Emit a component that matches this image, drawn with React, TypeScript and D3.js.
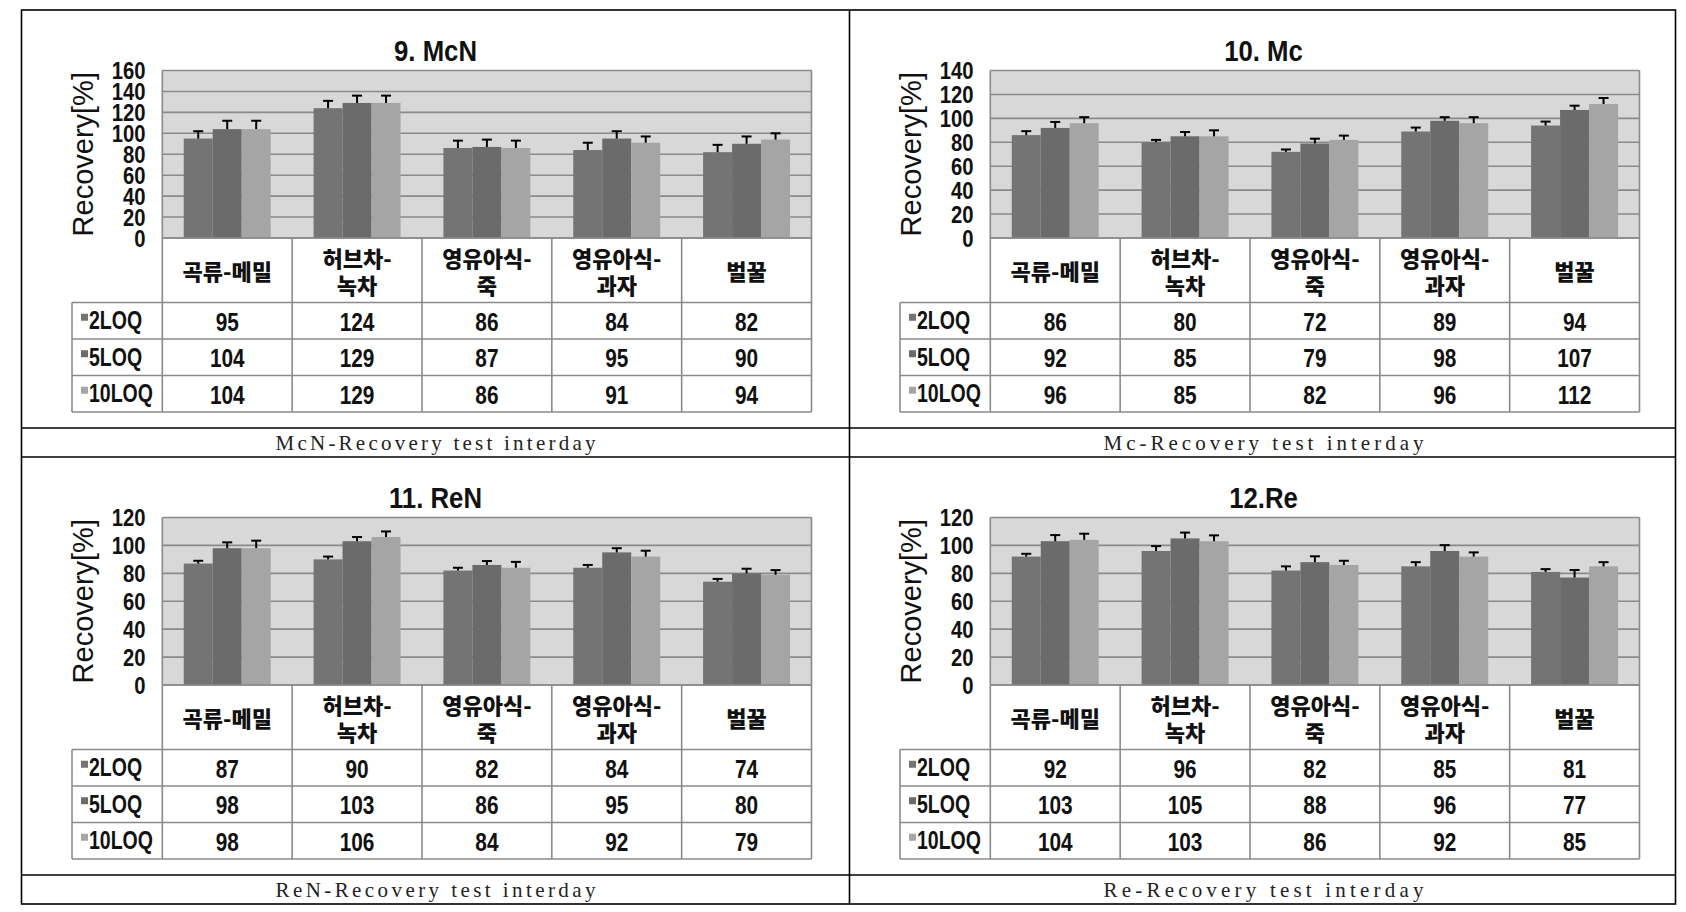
import React from "react";
import * as d3 from "d3";

const categories: string[][] = [["곡류-메밀"], ["허브차-", "녹차"], ["영유아식-", "죽"], ["영유아식-", "과자"], ["벌꿀"]];
const seriesNames = ["2LOQ", "5LOQ", "10LOQ"];
const seriesColors = ["#747474", "#6b6b6b", "#a5a5a5"];

const titles = ["9. McN", "10. Mc", "11. ReN", "12.Re"];
const captions = ["McN-Recovery test interday", "Mc-Recovery test interday", "ReN-Recovery test interday", "Re-Recovery test interday"];
const yMaxes = [160, 140, 120, 120];

const mcN2 = [95, 124, 86, 84, 82];
const mcN5 = [104, 129, 87, 95, 90];
const mcN10 = [104, 129, 86, 91, 94];
const mcNErr2 = [7, 7, 7, 7, 7];
const mcNErr5 = [8, 7, 7, 7, 7];
const mcNErr10 = [8, 7, 7, 6, 6];

const mc2 = [86, 80, 72, 89, 94];
const mc5 = [92, 85, 79, 98, 107];
const mc10 = [96, 85, 82, 96, 112];
const mcErr2 = [3.3, 2, 2, 3.3, 3.3];
const mcErr5 = [5, 3.6, 4, 3, 3.6];
const mcErr10 = [5, 5, 3.6, 5, 5];

const reN2 = [87, 90, 82, 84, 74];
const reN5 = [98, 103, 86, 95, 80];
const reN10 = [98, 106, 84, 92, 79];
const reNErr2 = [2, 2, 2, 2, 2];
const reNErr5 = [4.2, 3, 2.8, 3, 3.3];
const reNErr10 = [5.4, 4, 4.2, 4.2, 3.3];

const re2 = [92, 96, 82, 85, 81];
const re5 = [103, 105, 88, 96, 77];
const re10 = [104, 103, 86, 92, 85];
const reErr2 = [2, 3.5, 3, 3, 2];
const reErr5 = [4.4, 4.2, 4.2, 4.2, 5.4];
const reErr10 = [4.4, 4.2, 3, 3, 3];

const panelValues = [
  [mcN2, mcN5, mcN10],
  [mc2, mc5, mc10],
  [reN2, reN5, reN10],
  [re2, re5, re10],
];
const panelErrors = [
  [mcNErr2, mcNErr5, mcNErr10],
  [mcErr2, mcErr5, mcErr10],
  [reNErr2, reNErr5, reNErr10],
  [reErr2, reErr5, reErr10],
];

const W = 1686;
const H = 912;
const outerL = 21.5;
const outerR = 1675.5;
const midX = 849.5;
const rowTops = [10, 457];
const panelW = 828;

const sansBold = "'Liberation Sans', Arial, sans-serif";
const korean = "'Noto Sans CJK KR', 'Noto Sans', sans-serif";
const serif = "'Liberation Serif', 'DejaVu Serif', serif";
const gridColor = "#8a8a8a";

function Panel({ idx, ox, oy }: { idx: number; ox: number; oy: number }) {
  const plotL = ox + 140.8;
  const plotR = ox + 790;
  const plotT = oy + 60.5;
  const plotB = oy + 228;
  const legendL = ox + 50.5;
  const headerB = plotB + 64.5;
  const rowH = 36.5;
  const tableB = headerB + rowH * 3;
  const yMax = yMaxes[idx];
  const y = d3.scaleLinear().domain([0, yMax]).range([plotB, plotT]);
  const x = d3.scaleBand<number>().domain(d3.range(categories.length)).range([plotL, plotR]).padding(0);
  const xs = d3.scaleBand<number>().domain(d3.range(seriesNames.length)).range([0, x.bandwidth()]).paddingInner(0).paddingOuter(0.74);
  const ticks = d3.range(0, yMax + 1, 20);
  const vals = panelValues[idx];
  const errs = panelErrors[idx];
  const panelCx = ox + panelW / 2;

  return (
    <g>
      <g transform={`translate(${panelCx},${oy + 51}) scale(0.92,1.08)`}>
        <text x={0} y={0} textAnchor="middle" fontFamily={sansBold} fontWeight="bold" fontSize={28} fill="#111">
          {titles[idx]}
        </text>
      </g>
      {/* plot background */}
      <rect x={plotL} y={plotT} width={plotR - plotL} height={plotB - plotT} fill="#d8d8d8" />
      {ticks.map((t) => (
        <line key={"g" + t} x1={plotL} x2={plotR} y1={y(t)} y2={y(t)} stroke={gridColor} strokeWidth={1.6} />
      ))}
      <line x1={plotL} x2={plotL} y1={plotT} y2={plotB} stroke={gridColor} strokeWidth={1.6} />
      <line x1={plotR} x2={plotR} y1={plotT} y2={plotB} stroke={gridColor} strokeWidth={1.6} />
      {/* y tick labels */}
      {ticks.map((t) => (
        <g key={"t" + t} transform={`translate(${ox + 124},${y(t)}) scale(0.88,1.08)`}>
          <text x={0} y={0} textAnchor="end" dominantBaseline="central" fontFamily={sansBold} fontWeight="bold" fontSize={23} fill="#111">
            {t}
          </text>
        </g>
      ))}
      <text
        transform={`translate(${ox + 71},${(plotT + plotB) / 2}) rotate(-90)`}
        textAnchor="middle"
        fontFamily="'Liberation Sans', Arial, sans-serif"
        fontSize={29}
        fill="#111"
      >
        Recovery[%]
      </text>
      {/* bars */}
      {categories.map((_, ci) =>
        seriesNames.map((_, si) => {
          const v = vals[si][ci];
          const bx = (x(ci) as number) + (xs(si) as number);
          const bw = xs.bandwidth();
          const top = y(v);
          const et = y(v + errs[si][ci]);
          const cx = bx + bw / 2;
          return (
            <g key={`b${ci}-${si}`}>
              <rect x={bx} y={top} width={bw} height={plotB - top} fill={seriesColors[si]} />
              <line x1={cx} x2={cx} y1={top} y2={et} stroke="#000" strokeWidth={2} />
              <line x1={cx - 5} x2={cx + 5} y1={et} y2={et} stroke="#000" strokeWidth={2} />
            </g>
          );
        })
      )}
      {/* table */}
      <line x1={plotL} x2={plotR} y1={plotB} y2={plotB} stroke={gridColor} strokeWidth={1.6} />
      <line x1={legendL} x2={plotR} y1={headerB} y2={headerB} stroke={gridColor} strokeWidth={1.6} />
      {[1, 2, 3].map((r) => (
        <line key={"r" + r} x1={legendL} x2={plotR} y1={headerB + rowH * r} y2={headerB + rowH * r} stroke={gridColor} strokeWidth={1.6} />
      ))}
      <line x1={legendL} x2={legendL} y1={headerB} y2={tableB} stroke={gridColor} strokeWidth={1.6} />
      {d3.range(categories.length + 1).map((i) => {
        const xx = i < categories.length ? (x(i) as number) : plotR;
        return <line key={"c" + i} x1={xx} x2={xx} y1={plotB} y2={tableB} stroke={gridColor} strokeWidth={1.6} />;
      })}
      {categories.map((lines, ci) => {
        const cx = (x(ci) as number) + x.bandwidth() / 2;
        const cy = (plotB + headerB) / 2;
        return (
          <text key={"h" + ci} textAnchor="middle" fontFamily={korean} fontWeight={900} fontSize={22} fill="#111">
            {lines.map((ln, li) => (
              <tspan key={li} x={cx} y={cy + (li - (lines.length - 1) / 2) * 27} dominantBaseline="central">
                {ln}
              </tspan>
            ))}
          </text>
        );
      })}
      {seriesNames.map((s, si) => {
        const cy = headerB + rowH * si + rowH / 2;
        return (
          <g key={"l" + si}>
            <rect x={legendL + 9} y={cy - 7} width={7} height={7} fill={seriesColors[si]} />
            <g transform={`translate(${legendL + 17},${cy}) scale(0.78,1)`}>
              <text x={0} y={0} dominantBaseline="central" fontFamily={sansBold} fontWeight="bold" fontSize={25} fill="#111">
                {s}
              </text>
            </g>
            {categories.map((_, ci) => (
              <g key={"v" + ci} transform={`translate(${(x(ci) as number) + x.bandwidth() / 2},${cy + 1}) scale(0.8,1)`}>
                <text x={0} y={0} textAnchor="middle" dominantBaseline="central" fontFamily={sansBold} fontWeight="bold" fontSize={26} fill="#111">
                  {vals[si][ci]}
                </text>
              </g>
            ))}
          </g>
        );
      })}
      {/* caption */}
      <text
        x={panelCx}
        y={oy + 440}
        textAnchor="middle"
        fontFamily={serif}
        fontSize={21}
        fill="#222"
        textLength={320}
        lengthAdjust="spacing"
      >
        {captions[idx]}
      </text>
    </g>
  );
}

export default function App() {
  const panels = [
    { idx: 0, ox: outerL, oy: rowTops[0] },
    { idx: 1, ox: midX, oy: rowTops[0] },
    { idx: 2, ox: outerL, oy: rowTops[1] },
    { idx: 3, ox: midX, oy: rowTops[1] },
  ];
  return (
    <svg width={W} height={H} style={{ position: "absolute", left: 0, top: 0, background: "#fff" }}>
      <rect x={0} y={0} width={W} height={H} fill="#fff" />
      {panels.map((p) => (
        <Panel key={p.idx} {...p} />
      ))}
      <g stroke="#000" strokeWidth={1.6} fill="none">
        <rect x={outerL} y={rowTops[0]} width={outerR - outerL} height={904 - rowTops[0]} />
        <line x1={midX} x2={midX} y1={rowTops[0]} y2={904} />
        <line x1={outerL} x2={outerR} y1={428} y2={428} />
        <line x1={outerL} x2={outerR} y1={457} y2={457} />
        <line x1={outerL} x2={outerR} y1={875} y2={875} />
      </g>
    </svg>
  );
}
